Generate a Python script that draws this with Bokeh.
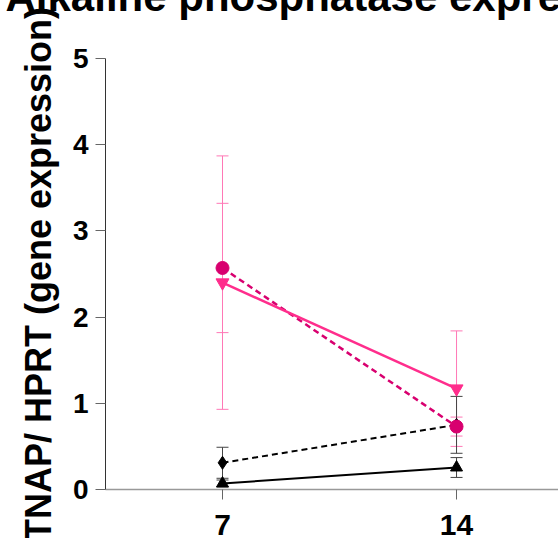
from bokeh.plotting import figure
from bokeh.models import ColumnDataSource, Whisker, TeeHead, FixedTicker, Range1d
from bokeh.embed import file_html
from bokeh.resources import INLINE

# ---- data ----
days = [7, 14]
tick_days = [7, 14]
y_ticks = [0, 1, 2, 3, 4, 5]

pink_circle_mean = [2.57, 0.73]
pink_circle_err = [0.75, 0.11]

pink_tri_mean = [2.40, 1.17]
pink_tri_err = [1.47, 0.67]

black_diamond_mean = [0.31, 0.75]
black_diamond_err = [0.18, 0.33]

black_tri_mean = [0.07, 0.255]
black_tri_err = [0.04, 0.115]

title_text = "Alkaline phosphatase expression"
y_label = "TNAP/ HPRT (gene expression)"

FONT = "Liberation Sans"
PINK_LINE = "#FF2D8C"
PINK_DARK = "#D8006F"
PINK_ERR = "#FF78B6"
BLACK = "#000000"
BLACK_ERR = "#444444"

SHIFT = 75  # the reference is cropped at the top: the title is partly cut

p = figure(width=558, height=538 + SHIFT + 14, output_backend="svg", toolbar_location=None,
           x_range=Range1d(3.5, 17.05), y_range=Range1d(0, 5),
           min_border_left=105, min_border_top=58 + SHIFT, min_border_bottom=63,
           min_border_right=0)
p.styles = {"margin-top": f"-{SHIFT}px"}
p.outline_line_color = None
p.xgrid.visible = False
p.ygrid.visible = False
p.background_fill_color = "white"
p.border_fill_color = "white"

p.title.text = title_text
p.title.text_font = FONT
p.title.text_font_style = "bold"
p.title.text_font_size = "42px"
p.title.align = "left"
p.title.offset = -100
p.title.standoff = 78
p.title.text_color = "black"

def src(mean, err):
    return ColumnDataSource(dict(x=days, y=mean,
                                 lo=[m - e for m, e in zip(mean, err)],
                                 hi=[m + e for m, e in zip(mean, err)]))

s_pc = src(pink_circle_mean, pink_circle_err)
s_pt = src(pink_tri_mean, pink_tri_err)
s_bd = src(black_diamond_mean, black_diamond_err)
s_bt = src(black_tri_mean, black_tri_err)

def whisk(s, color):
    w = Whisker(source=s, base="x", upper="hi", lower="lo", dimension="height",
                line_color=color, line_width=1,
                upper_head=TeeHead(size=12, line_color=color, line_width=1),
                lower_head=TeeHead(size=12, line_color=color, line_width=1))
    p.add_layout(w)

whisk(s_pt, PINK_ERR)
whisk(s_pc, PINK_ERR)
whisk(s_bd, BLACK_ERR)
whisk(s_bt, BLACK_ERR)

p.line("x", "y", source=s_bd, line_color=BLACK, line_width=2, line_dash="6 4")
p.line("x", "y", source=s_bt, line_color=BLACK, line_width=2)
p.line("x", "y", source=s_pc, line_color=PINK_DARK, line_width=2.5, line_dash="6 4")
p.line("x", "y", source=s_pt, line_color=PINK_LINE, line_width=2.5)

p.scatter("x", "y", source=s_bd, marker="diamond", size=13, color=BLACK)
p.scatter("x", "y", source=s_bt, marker="triangle", size=12, color=BLACK)
p.scatter("x", "y", source=s_pc, marker="circle", size=13, color=PINK_DARK)
p.scatter("x", "y", source=s_pt, marker="inverted_triangle", size=13, color=PINK_LINE)

# axes
p.xaxis.ticker = FixedTicker(ticks=tick_days)
p.yaxis.ticker = FixedTicker(ticks=y_ticks)
for ax in (p.xaxis[0], p.yaxis[0]):
    ax.minor_tick_line_color = None
    ax.major_tick_in = 0
    ax.major_tick_out = 10
    ax.major_label_text_font = FONT
    ax.major_label_text_font_style = "bold"
    ax.major_label_text_font_size = "28px"
    ax.major_label_text_color = "black"
p.xaxis.major_label_text_font_size = "30px"
p.yaxis.axis_line_color = "#333333"
p.yaxis.major_tick_line_color = "#666666"
p.xaxis.axis_line_color = "#999999"
p.xaxis.axis_line_width = 1.5
p.xaxis.major_tick_line_color = "#666666"
p.yaxis.major_label_standoff = 7
p.xaxis.major_label_standoff = 15
p.yaxis.axis_label = y_label
p.yaxis.axis_label_text_font = FONT
p.yaxis.axis_label_text_font_style = "bold"
p.yaxis.axis_label_text_font_size = "36px"
p.yaxis.axis_label_text_color = "black"
p.yaxis.axis_label_standoff = 11

open("out.html", "w").write(file_html(p, INLINE))
